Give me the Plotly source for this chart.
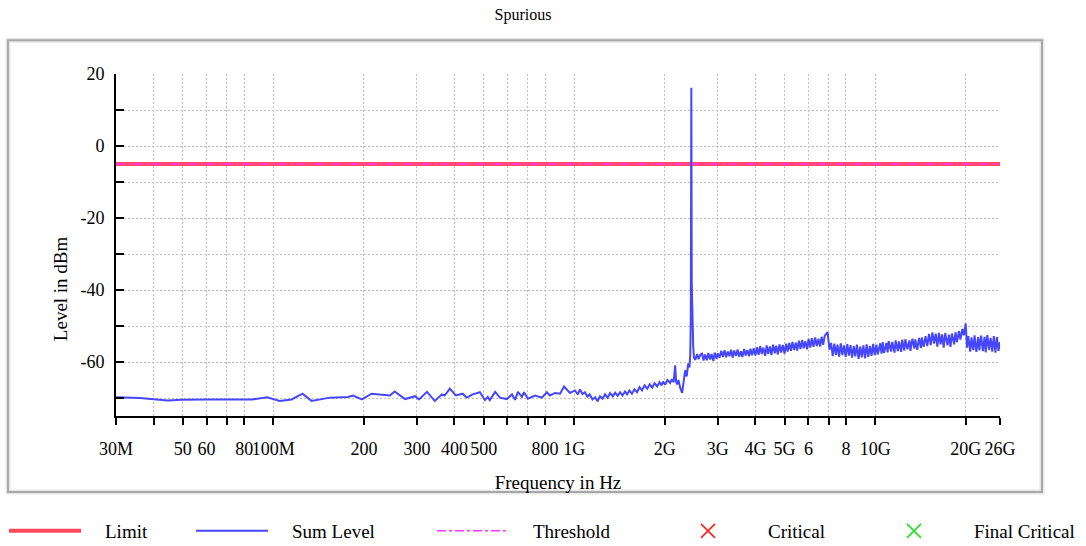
import math
import plotly.graph_objects as go

# ---- sweep data -------------------------------------------------------------
# Sum level trace, frequency in MHz / GHz, level in dBm
freq_low_mhz = [30, 36, 44.6, 49.6, 60, 72, 85, 95.3, 105, 115, 125, 134, 154, 177,
                184, 197, 212, 244, 253, 274, 296, 305, 324, 344, 363, 371, 386, 404,
                426, 439, 460, 486, 505, 516, 524, 546, 566, 597, 621, 636, 650, 670,
                681, 701, 740, 781, 811, 830, 863, 897, 925, 968, 1005, 1028]
level_low_dbm = [-69.8, -70.0, -70.7, -70.5, -70.4, -70.4, -70.4, -69.8, -70.8, -70.4,
                 -68.8, -70.8, -69.9, -69.7, -69.3, -70.4, -68.8, -69.3, -68.2, -70.3,
                 -69.5, -70.4, -68.3, -70.8, -69.0, -69.3, -67.4, -69.3, -68.8, -69.9,
                 -69.0, -68.4, -70.6, -69.7, -70.6, -68.3, -69.9, -70.3, -69.0, -70.5,
                 -68.3, -69.7, -68.4, -70.2, -69.3, -69.9, -68.4, -69.3, -68.6, -68.8,
                 -66.8, -68.6, -67.9, -69.0]

freq_mid_mhz = [1045, 1065, 1085, 1105, 1125, 1150, 1173, 1195, 1218, 1242, 1266, 1291,
                1316, 1342, 1368, 1394, 1420, 1447, 1474, 1498, 1525, 1555, 1585, 1617,
                1648, 1680, 1713, 1748, 1782, 1816, 1850, 1886, 1920, 1950, 1975, 2005,
                2040, 2083, 2110, 2140, 2165, 2180, 2196, 2220, 2250, 2284, 2310, 2337,
                2365, 2392, 2415, 2430, 2440, 2450, 2458, 2465, 2475, 2485, 2500, 2524,
                2560, 2590, 2624]
level_mid_dbm = [-67.6, -68.9, -68.4, -69.6, -69.0, -70.4, -69.8, -70.9, -69.5, -70.2,
                 -69.0, -69.9, -68.6, -69.5, -68.5, -69.4, -68.4, -69.3, -68.2, -69.0,
                 -67.9, -68.8, -67.6, -68.4, -67.0, -67.9, -66.5, -67.4, -66.2, -67.1,
                 -65.9, -66.8, -65.6, -66.5, -65.4, -66.3, -65.0, -65.8, -64.8, -65.6,
                 -60.9, -65.4, -66.2, -65.0, -67.2, -68.6, -64.5, -62.3, -64.0, -60.4,
                 -61.5, -58.0, -48.0, 16.2, -38.0, -45.0, -50.0, -55.5, -58.8, -59.4,
                 -57.8, -59.2, -58.0]

freq_high_ghz = [
    2.66, 2.69, 2.72, 2.76, 2.79, 2.83, 2.86, 2.90, 2.93, 2.97, 3.00,
    3.04, 3.08, 3.12, 3.16, 3.20, 3.24, 3.28, 3.32, 3.36, 3.40, 3.45, 3.49,
    3.53, 3.58, 3.62, 3.67, 3.71, 3.76, 3.81, 3.85, 3.90, 3.95, 4.00,
    4.05, 4.10, 4.15, 4.20, 4.25, 4.31, 4.36, 4.41, 4.47, 4.52, 4.58, 4.64,
    4.69, 4.75, 4.81, 4.87, 4.93, 5.00,
    5.06, 5.12, 5.18, 5.25, 5.31, 5.38, 5.45, 5.51, 5.58, 5.65, 5.72, 5.79,
    5.86, 5.94, 6.01, 6.09, 6.16, 6.24, 6.32, 6.40, 6.48, 6.56, 6.64, 6.72,
    6.80, 6.88, 6.95,
    7.05, 7.14, 7.23, 7.32, 7.41, 7.50, 7.59, 7.69, 7.78, 7.88, 7.98, 8.08,
    8.18, 8.28, 8.38, 8.49, 8.59, 8.70, 8.81, 8.92, 9.03, 9.14, 9.26, 9.37,
    9.49, 9.61, 9.73, 9.85, 9.97, 10.1,
    10.2, 10.4, 10.5, 10.6, 10.7, 10.9, 11.0, 11.1, 11.3, 11.4, 11.6, 11.7,
    11.9, 12.0, 12.2, 12.3, 12.5, 12.6, 12.8, 13.0, 13.1, 13.3, 13.5, 13.6,
    13.8, 14.0, 14.2, 14.3, 14.5, 14.7, 14.9,
    15.1, 15.3, 15.5, 15.7, 15.9, 16.1, 16.3, 16.5, 16.7, 16.9, 17.1, 17.4,
    17.6, 17.8, 18.0, 18.3, 18.5, 18.7, 19.0, 19.2, 19.5, 19.7, 19.9, 20.0,
    20.2, 20.4, 20.7, 20.9, 21.2, 21.4, 21.7, 22.0, 22.2, 22.5, 22.8, 23.1,
    23.3, 23.6, 23.9, 24.2, 24.5, 24.8, 25.1, 25.4, 25.7, 26.0]
level_high_dbm = [
    -57.7, -59.6, -57.9, -59.5, -57.5, -59.3, -57.8, -59.7, -57.4, -59.1, -57.6,
    -58.8, -56.9, -58.6, -56.7, -58.7, -57.1, -58.4, -56.6, -58.8, -56.8, -58.3, -56.5,
    -58.5, -57.0, -58.6, -56.4, -58.2, -56.7, -58.4, -56.3, -58.1, -56.2, -58.2,
    -55.9, -58.0, -55.6, -57.8, -56.0, -58.3, -55.4, -57.7, -55.7, -58.1, -55.2, -57.6,
    -55.5, -57.9, -55.1, -57.4, -55.3, -57.7,
    -54.9, -57.1, -54.7, -56.9, -54.4, -56.7, -54.6, -56.8, -54.1, -56.4, -53.9, -56.2,
    -54.2, -56.5, -53.6, -56.0, -53.4, -55.8, -53.2, -55.6, -53.5, -55.7, -53.0, -55.2,
    -52.7, -52.2, -51.7,
    -56.6, -54.7, -58.4, -54.9, -58.0, -55.2, -58.5, -54.8, -58.1, -55.4, -58.6, -55.0,
    -58.2, -55.3, -58.8, -55.6, -58.4, -55.2, -59.1, -55.7, -58.7, -55.4, -59.0, -55.1,
    -58.6, -55.5, -58.3, -55.0, -58.1, -55.2,
    -57.9, -54.8, -57.7, -54.5, -57.5, -54.7, -57.3, -54.2, -57.1, -54.4, -57.4, -54.0,
    -57.0, -54.3, -57.2, -53.8, -56.8, -53.7, -56.5, -54.0, -56.9, -53.5, -56.3, -53.7,
    -56.6, -53.3, -56.1, -53.2, -55.8, -52.8, -55.6,
    -52.2, -55.3, -51.8, -54.9, -52.1, -55.7, -51.9, -55.1, -52.3, -56.0, -52.0, -55.4,
    -52.4, -55.8, -52.1, -55.1, -51.7, -54.5, -51.4, -53.8, -50.8, -52.6, -50.1, -49.3,
    -56.0, -52.8, -57.1, -53.2, -56.7, -52.6, -57.2, -53.1, -56.8, -52.7, -57.0, -53.0,
    -57.3, -52.5, -56.6, -53.3, -57.1, -52.8, -57.4, -53.1, -56.9, -54.5]

# limit and threshold lines (dBm) over the full span
span_hz = [30e6, 26e9]
limit_dbm = [-5, -5]
threshold_dbm = [-5, -5]

# axis ticks
x_tick_hz = [30e6, 40e6, 50e6, 60e6, 70e6, 80e6, 100e6, 200e6, 300e6, 400e6, 500e6,
             600e6, 700e6, 800e6, 1e9, 2e9, 3e9, 4e9, 5e9, 6e9, 7e9, 8e9, 10e9, 20e9, 26e9]
x_tick_text = ["30M", "", "50", "60", "", "80", "100M", "200", "300", "400", "500",
               "", "", "800", "1G", "2G", "3G", "4G", "5G", "6", "", "8", "10G", "20G", "26G"]
y_tick_vals = [20, 10, 0, -10, -20, -30, -40, -50, -60, -70]
y_tick_text = ["20", "", "0", "", "-20", "", "-40", "", "-60", ""]

# ---- assemble sum level trace ----------------------------------------------
sum_freq_hz = ([f * 1e6 for f in freq_low_mhz] + [f * 1e6 for f in freq_mid_mhz]
               + [f * 1e9 for f in freq_high_ghz])
sum_level = level_low_dbm + level_mid_dbm + level_high_dbm

FONT = "Liberation Serif"
W, H = 1086, 546
PAD = "\u00a0" * 4   # gap between legend symbol and its label

fig = go.Figure()
fig.add_trace(go.Scatter(x=span_hz, y=limit_dbm, mode="lines", name=PAD + "Limit",
                         legend="legend", line=dict(color="#ff4a5a", width=4),
                         hoverinfo="skip"))
fig.add_trace(go.Scatter(x=sum_freq_hz, y=sum_level, mode="lines", name=PAD + "Sum Level",
                         legend="legend2", line=dict(color="#4646ff", width=2)))
fig.add_trace(go.Scatter(x=span_hz, y=threshold_dbm, mode="lines", name=PAD + "Threshold",
                         legend="legend3",
                         line=dict(color="#ff33ff", width=1.5, dash="dashdot"),
                         hoverinfo="skip"))
fig.add_trace(go.Scatter(x=[None], y=[None], mode="markers", name=PAD + "Critical",
                         legend="legend4",
                         marker=dict(symbol="x-thin-open", size=14, color="#ff1a1a",
                                     line=dict(color="#ff1a1a", width=1.5))))
fig.add_trace(go.Scatter(x=[None], y=[None], mode="markers", name=PAD + "Final Critical",
                         legend="legend5",
                         marker=dict(symbol="x-thin-open", size=14, color="#1ee01e",
                                     line=dict(color="#1ee01e", width=1.5))))

x_range = [math.log10(span_hz[0]), math.log10(span_hz[1])]
grid_dash = "2px,2px"


def legend_at(left_px):
    """One-entry legend placed along the bottom row."""
    return dict(orientation="h", xref="container", yref="container",
                x=left_px / W, y=1 - 531 / H, xanchor="left", yanchor="middle",
                itemwidth=72, font=dict(family=FONT, size=19),
                bgcolor="rgba(0,0,0,0)")


fig.update_layout(
    width=W, height=H,
    margin=dict(l=116, r=86, t=74, b=130, autoexpand=False),
    paper_bgcolor="white", plot_bgcolor="white",
    font=dict(family=FONT, size=18, color="black"),
    title=dict(text="Spurious", x=0.4816, xref="container", xanchor="center",
               y=1 - 14 / H, yref="container", yanchor="middle",
               font=dict(family=FONT, size=16, color="black")),
    xaxis=dict(type="log", range=x_range, tickvals=x_tick_hz, ticktext=x_tick_text,
               tickangle=0, automargin=False,
               ticks="outside", ticklen=7, tickwidth=2, tickcolor="black",
               showline=True, linecolor="black", linewidth=2,
               showgrid=True, gridcolor="#c0c0c0", griddash=grid_dash, gridwidth=1,
               zeroline=False, ticklabelstandoff=8,
               title=dict(text="Frequency in Hz", standoff=18,
                          font=dict(family=FONT, size=19))),
    xaxis2=dict(type="log", range=x_range, tickvals=x_tick_hz,
                ticktext=[""] * len(x_tick_hz), tickangle=0, automargin=False,
                overlaying="x", anchor="y", side="bottom",
                ticks="inside", ticklen=5, tickwidth=2, tickcolor="black",
                showline=False, showgrid=False, zeroline=False),
    yaxis=dict(range=[-75, 20], tickvals=y_tick_vals, ticktext=y_tick_text,
               automargin=False,
               ticks="inside", ticklen=8, tickwidth=2, tickcolor="black",
               showline=True, linecolor="black", linewidth=2,
               showgrid=True, gridcolor="#c0c0c0", griddash=grid_dash, gridwidth=1,
               zeroline=False, ticklabelstandoff=6),
    yaxis2=dict(range=[-75, 20], tickvals=y_tick_vals, ticktext=[""] * len(y_tick_vals),
                overlaying="y", anchor="x", side="left", automargin=False,
                ticks="outside", ticklen=2, tickwidth=2, tickcolor="black",
                showline=False, showgrid=False, zeroline=False),
    legend=legend_at(4),
    legend2=legend_at(191),
    legend3=legend_at(432),
    legend4=legend_at(667),
    legend5=legend_at(873),
    showlegend=True,
    annotations=[dict(text="Level in dBm", textangle=-90, xref="paper", yref="paper",
                      x=-0.0633, y=0.371, xanchor="center", yanchor="middle",
                      showarrow=False, font=dict(family=FONT, size=19))],
    shapes=[
        dict(type="rect", xref="paper", yref="paper", x0=-0.1222, x1=1.0475,
             y0=-0.222, y1=1.0985, line=dict(color="#e8e8e8", width=5), layer="below"),
        dict(type="rect", xref="paper", yref="paper", x0=-0.1222, x1=1.0475,
             y0=-0.222, y1=1.0985, line=dict(color="#a8a8a8", width=2), layer="below"),
    ],
)

fig.write_html("out.html")
